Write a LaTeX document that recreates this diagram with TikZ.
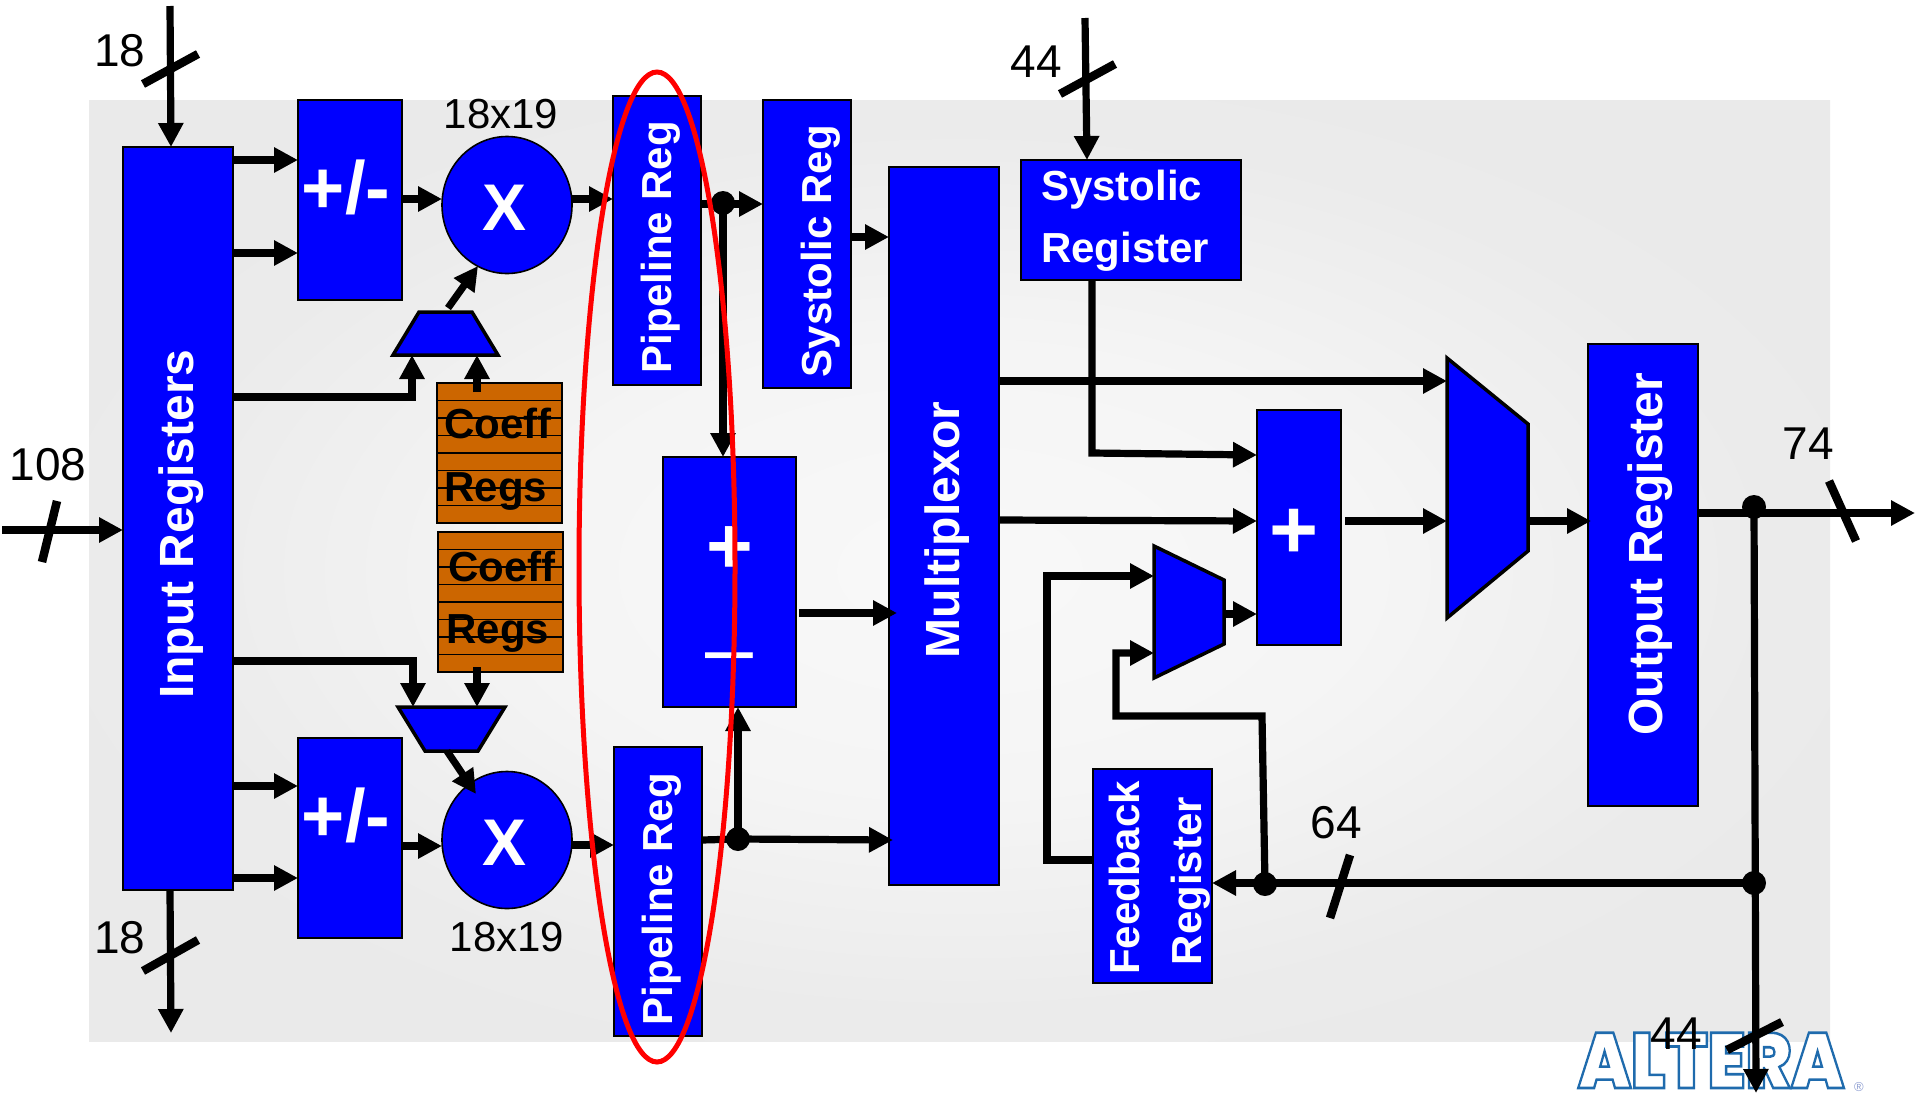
\documentclass[tikz,border=0pt]{standalone}
\usepackage{fontspec}
\setmainfont{Liberation Sans}
\newfontfamily\logofont[UprightFont=* Black]{Poppins}
\usetikzlibrary{arrows.meta,calc,shapes.geometric}
\definecolor{coeffc}{HTML}{CC6600}
\definecolor{ablue}{HTML}{0000FF}
\definecolor{logoreg}{HTML}{8C9CD0}
\pgfdeclareradialshading{bgshade}{\pgfpoint{0bp}{0bp}}{rgb(0bp)=(0.975,0.975,0.975);rgb(12bp)=(0.96,0.96,0.96);rgb(24bp)=(0.92,0.92,0.92);rgb(50bp)=(0.915,0.915,0.915)}
\tikzset{
 bbox/.style={draw=black,fill=ablue,line width=1.6pt,inner sep=0pt,outer sep=0pt,anchor=north west},
 xnode/.style={ellipse,draw=black,fill=ablue,line width=1.6pt,minimum width=130pt,minimum height=137pt,inner sep=0pt,outer sep=0pt},
 blab/.style={text=white,font=\fontsize{#1}{#1}\selectfont\bfseries,inner sep=0pt,text height=0.72*#1 pt,text depth=0pt},
 vlab/.style={blab=#1,rotate=90},
 num/.style={font=\fontsize{#1}{#1}\selectfont,inner sep=0pt,text height=0.72*#1 pt,text depth=0pt},
 cf/.style={font=\fontsize{42}{42}\selectfont\bfseries,inner sep=0pt,text height=30pt,text depth=0pt},
 wire/.style={line width=7.2pt,line join=miter,-{Triangle[length=24pt,width=24pt]}},
 bare/.style={line width=7.2pt,line join=miter},
 slash/.style={line width=8.5pt},
 dotn/.style={circle,fill=black,minimum size=24pt,inner sep=0pt,outer sep=0pt},
 cell/.style={draw=black,fill=coeffc,line width=1.8pt},
 muxs/.style={draw=black,fill=ablue,line width=3.5pt,line join=miter},
}
\begin{document}
\begin{tikzpicture}[x=1pt,y=-1pt]
\useasboundingbox (0,0) rectangle (1915,1093);
% background
\shade[shading=bgshade] (89,100) rectangle (1830,1041);
% logo
\node[inner sep=0pt,anchor=base west] (logo) at (1578,1088) {\special{pdf:code q 2 Tr 2.6 w 0.12 0.42 0.68 RG 1 1 1 rg}\scalebox{0.875}[1]{\fontsize{78}{78}\selectfont\logofont ALTERA}\special{pdf:code Q}};
\node[inner sep=0pt,text=logoreg,font=\fontsize{13}{13}\selectfont] (logor) at (1859,1087) {®};
% boxes
\node[bbox,minimum width=110pt,minimum height=743pt] (inreg) at (123,147) {};
\node[bbox,minimum width=104pt,minimum height=200pt] (addt) at (298,100) {};
\node[bbox,minimum width=104pt,minimum height=200pt] (addb) at (298,738) {};
\node[xnode] (xt) at (507,205) {};
\node[xnode] (xb) at (507,840) {};
\node[bbox,minimum width=88pt,minimum height=289pt] (pipet) at (613,96) {};
\node[bbox,minimum width=88pt,minimum height=289pt] (pipeb) at (614,747) {};
\node[bbox,minimum width=88pt,minimum height=288pt] (sysv) at (763,100) {};
\node[bbox,minimum width=110pt,minimum height=718pt] (mux) at (889,167) {};
\node[bbox,minimum width=220pt,minimum height=120pt] (sysh) at (1021,160) {};
\node[bbox,minimum width=84pt,minimum height=235pt] (add) at (1257,410) {};
\node[bbox,minimum width=133pt,minimum height=250pt] (mid) at (663,457) {};
\node[bbox,minimum width=110pt,minimum height=462pt] (outr) at (1588,344) {};
\node[bbox,minimum width=119pt,minimum height=214pt] (fbr) at (1093,769) {};
% coefficient registers
\foreach \k in {0,...,7}{
  \draw[cell] (437,383+\k*17.5) rectangle (562,383+\k*17.5+17.5);
  \draw[cell] (438,532+\k*17.5) rectangle (563,532+\k*17.5+17.5);
}
\coordinate (cfa) at (477,383);
\coordinate (cfb) at (477,672);
% multiplexers
\draw[muxs] (419,312) coordinate (mta) -- (472,312) -- (498,355) -- (393,355) -- cycle;
\draw[muxs] (398,707) coordinate (mba) -- (505,707) -- (478,751) -- (425,751) -- cycle;
\draw[muxs] (1447,358) coordinate (bm) -- (1528,424) -- (1528,551) coordinate (bme) -- (1447,618) -- cycle;
\draw[muxs] (1154,546) coordinate (sm) -- (1224,580) -- (1224,644) coordinate (sme) -- (1154,678) -- cycle;
% free ends
\coordinate (in18t) at (170,6);
\coordinate (in18b) at (171,1033);
\coordinate (in108) at (2,530);
\coordinate (in44) at (1085,18);
\coordinate (o74) at (1915,513);
\coordinate (o44) at (1756,1093);
% dots
\node[dotn] (dpt) at (723,203) {};
\node[dotn] (dpb) at (738,839) {};
\node[dotn] (dot) at (1754,507) {};
\node[dotn] (dob) at (1754,883) {};
\node[dotn] (dfb) at (1265,884) {};
% connectors
\draw[wire] (in18t) -- (inreg.north -| 171,0);
\draw[wire] (inreg.south -| 170,0) -- (in18b);
\draw[wire] (in108) -- (inreg.west |- 0,530);
\draw[wire] (inreg.east |- 0,160) -- (addt.west |- 0,160);
\draw[wire] (inreg.east |- 0,253) -- (addt.west |- 0,253);
\draw[wire] (inreg.east |- 0,786) -- (addb.west |- 0,786);
\draw[wire] (inreg.east |- 0,878) -- (addb.west |- 0,878);
\draw[wire] (addt.east |- 0,199) -- (xt.west |- 0,199);
\draw[wire] (addb.east |- 0,846) -- (xb.west |- 0,846);
\draw[wire] (xt.east |- 0,199) -- (pipet.west |- 0,199);
\draw[wire] (xb.east |- 0,845) -- (pipeb.west |- 0,845);
\draw[wire] (448,308) -- (478,266);
\draw[wire] (447,751) -- (476,794);
\draw[wire] (inreg.east |- 0,397) -- (412,397) -- (412,355);
\draw[wire] (cfa |- 0,392) -- (cfa |- 0,355);
\draw[wire] (inreg.east |- 0,661) -- (413,661) -- (413,707);
\draw[wire] (cfb |- 0,667) -- (cfb |- 0,707);
\draw[wire] (pipet.east |- 0,204) -- (sysv.west |- 0,204);
\draw[wire] (dpt.center) -- (mid.north -| dpt);
\draw[bare] (pipeb.east |- 0,840) -- (dpb.center);
\draw[wire] (dpb.center) -- (893,840);
\draw[wire] (dpb.center) -- (mid.south -| dpb);
\draw[wire] (sysv.east |- 0,237) -- (mux.west |- 0,237);
\draw[wire] (799,613) -- (897,613);
\draw[wire] (in44) -- (sysh.north -| 1087,0);
\draw[wire] (sysh.south -| 1092,0) -- (1092,453) -- (add.west |- 0,455);
\draw[wire] (mux.east |- 0,381) -- (bm |- 0,381);
\draw[wire] (mux.east |- 0,520) -- (add.west |- 0,521);
\draw[wire] (1345,521) -- (bm |- 0,521);
\draw[wire] (bme |- 0,521) -- (1591,521);
\draw[wire] (sme |- 0,614) -- (add.west |- 0,614);
\draw[wire] (outr.east |- 0,513) -- (o74);
\draw[wire] (dot.center) -- (o44);
\draw[wire] (dob.center) -- (fbr.east |- dob);
\draw[wire] (dfb.center) -- (1262,716) -- (1116,716) -- (1116,653) -- (sm |- 0,653);
\draw[wire] (fbr.west |- 0,860) -- (1047,860) -- (1047,576) -- (sm |- 0,576);
% slashes
\draw[slash] (143,84) -- (198,54);
\draw[slash] (143,971) -- (198,940);
\draw[slash] (42,562) -- (57,501);
\draw[slash] (1060,94) -- (1115,64);
\draw[slash] (1829,481) -- (1856,541);
\draw[slash] (1727,1050) -- (1782,1022);
\draw[slash] (1330,918) -- (1350,855);
% labels in boxes
\node[vlab=48] (linreg) at (176,524) {Input Registers};
\node[vlab=42] (lpipet) at (656,247) {Pipeline Reg};
\node[vlab=42] (lpipeb) at (657,899) {Pipeline Reg};
\node[vlab=42] (lsysv) at (816,251) {Systolic Reg};
\node[vlab=48] (lmux) at (942,530) {Multiplexor};
\node[vlab=48] (loutr) at (1645,554) {Output Register};
\node[vlab=42] (lfb1) at (1124,878) {Feedback};
\node[vlab=42] (lfb2) at (1186,881) {Register};
\node[blab=42,anchor=west] (lsys1) at (1041,185) {Systolic};
\node[blab=42,anchor=west] (lsys2) at (1041,247) {Register};
\node[blab=74] (lat) at (346,187) {+/-};
\node[blab=74] (lab) at (346,815) {+/-};
\node[blab=66] (lxt) at (505,207) {X};
\node[blab=66] (lxb) at (505,842) {X};
\node[blab=84] (lplus) at (1294,528) {+};
\node[blab=80] (lmp) at (730,545) {+};
\node[text=white,font=\fontsize{86}{86}\selectfont,inner sep=0pt] (lmm) at (729,665) {–};
% coeff labels
\node[cf] (c1) at (498,423) {Coeff};
\node[cf] (r1) at (496,486) {Regs};
\node[cf] (c2) at (502,566) {Coeff};
\node[cf] (r2) at (498,628) {Regs};
% numbers
\node[num=46] (n18a) at (120,50) {18};
\node[num=46] (n18b) at (120,937) {18};
\node[num=46] (n108) at (48,464) {108};
\node[num=46] (n44a) at (1036,61) {44};
\node[num=46] (n74) at (1808,443) {74};
\node[num=46] (n64) at (1336,822) {64};
\node[num=46] (n44b) at (1676,1033) {44};
\node[num=42] (nmt) at (501,113) {18x19};
\node[num=42] (nmb) at (507,936) {18x19};
% red ellipse
\draw[red,line width=5pt] (657,567) ellipse [x radius=78pt,y radius=495pt];
\end{tikzpicture}
\end{document}
